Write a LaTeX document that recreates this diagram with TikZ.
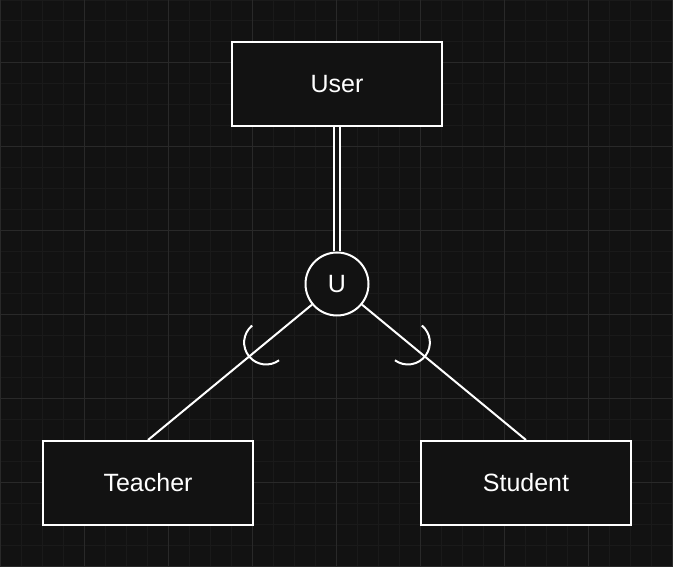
\documentclass[tikz,border=0pt]{standalone}
\usepackage{fontspec}
\setmainfont{Liberation Sans}
\usetikzlibrary{calc}
\definecolor{bg}{HTML}{121212}
\definecolor{gridminor}{HTML}{1A1A1A}
\definecolor{gridmajor}{HTML}{292929}
\tikzset{
  entity/.style={draw=white, fill=bg, line width=2pt, minimum width=210pt, minimum height=84pt, inner sep=0pt, text=white, font=\fontsize{25pt}{29pt}\selectfont},
  unionnode/.style={circle, draw=white, fill=bg, line width=2pt, minimum size=63pt, inner sep=0pt, text=white, font=\fontsize{25pt}{29pt}\selectfont},
  link/.style={draw=white, line width=2pt},
  dbl/.style={draw=white, line width=2pt, double=bg, double distance=3.5pt},
  subarc/.style={draw=white, line width=2pt}
}
\begin{document}
\begin{tikzpicture}[x=1pt, y=1pt]
  \useasboundingbox (0,0) rectangle (673,567);
  \fill[bg] (0,0) rectangle (673,567);
  \draw[gridminor, line width=1pt] (0,0) grid[step=21] (673,567);
  \draw[gridmajor, line width=1pt] (0,0) grid[step=84] (673,567);

  \node[entity] (user) at (337,483) {User};
  \node[entity] (teacher) at (148,84) {Teacher};
  \node[entity] (student) at (526,84) {Student};
  \node[unionnode] (u) at (337,283) {U};

  \draw[dbl] (user.south) -- (u.north);
  \draw[link] (u) -- (teacher.north);
  \draw[link] (u) -- (student.north);

  \coordinate (la) at ($(u.center)!0.375!(teacher.north)$);
  \coordinate (ra) at ($(u.center)!0.375!(student.north)$);
  \draw[subarc] (la) ++(129.7:22) arc[start angle=129.7, end angle=306, radius=22];
  \draw[subarc] (ra) ++(234:22) arc[start angle=234, end angle=410.3, radius=22];
\end{tikzpicture}
\end{document}
